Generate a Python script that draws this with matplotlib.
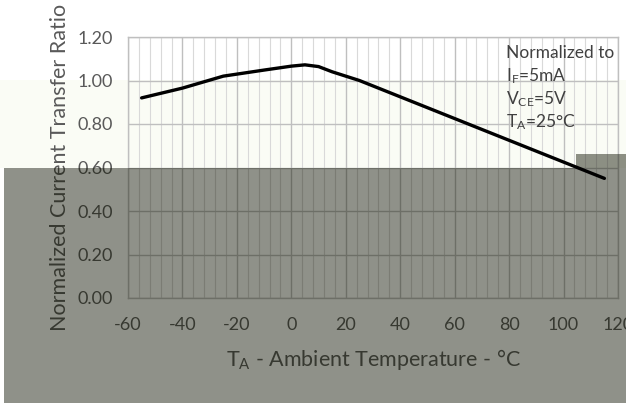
import matplotlib
matplotlib.use("Agg")
import matplotlib.pyplot as plt
from matplotlib.patches import Rectangle
from matplotlib.ticker import MultipleLocator

# 온도별 정규화 CTR 데이터
temp_c = [-55, -40, -25, -10, 0, 5, 10, 15, 25, 50, 75, 100, 115]
ctr_norm = [0.92, 0.965, 1.02, 1.048, 1.066, 1.072, 1.064, 1.04, 1.00, 0.875, 0.75, 0.625, 0.55]

x_ticks = [-60, -40, -20, 0, 20, 40, 60, 80, 100, 120]
y_ticks = [0.00, 0.20, 0.40, 0.60, 0.80, 1.00, 1.20]
note_lines = ["Normalized to", r"I$_{F}$=5mA", r"V$_{CE}$=5V", r"T$_{A}$=25°C"]

plt.rcParams['font.family'] = ['Lato', 'DejaVu Sans']
plt.rcParams['mathtext.default'] = 'regular'
plt.rcParams['axes.unicode_minus'] = False

W, H = 626, 403
fig = plt.figure(figsize=(W / 100, H / 100), dpi=100)
fig.patch.set_facecolor('white')

# 옅은 배경 띠
fig.patches.append(Rectangle((0, 1 - 168 / H), 1, 88 / H, transform=fig.transFigure,
                             facecolor='#fafcf5', edgecolor='none', zorder=-1))

ax = fig.add_axes([128 / W, 1 - 298 / H, 490 / W, 261 / H])
ax.set_facecolor('none')
ax.set_axisbelow(True)

# 곡선
ax.plot(temp_c, ctr_norm, color='black', lw=2.4, solid_capstyle='round', zorder=3)

ax.set_xlim(-60, 120)
ax.set_ylim(0, 1.2)
ax.set_xticks(x_ticks)
ax.set_yticks(y_ticks)
ax.set_yticklabels([f"{v:.2f}" for v in y_ticks])
ax.xaxis.set_minor_locator(MultipleLocator(4))

ax.grid(which='major', color='#bfbfbf', lw=1.0)
ax.grid(which='minor', axis='x', color='#d9d9d9', lw=0.8)
ax.tick_params(which='both', length=0, labelsize=13, labelcolor='#595959')
ax.tick_params(axis='x', pad=14)
ax.tick_params(axis='y', pad=11)
for sp in ax.spines.values():
    sp.set_color('#bfbfbf')
    sp.set_linewidth(1.0)
    sp.set_zorder(0.5)

ax.set_xlabel(r"T$_{A}$ - Ambient Temperature - °C", fontsize=15.5, color='#595959', labelpad=10)
ax.set_ylabel("Normalized Current Transfer Ratio", fontsize=15.5, color='#595959', labelpad=5)

# 조건 설명
for i, s in enumerate(note_lines):
    ax.text(79, 1.128 - i * 0.106, s, fontsize=12.5, color='#404040',
            ha='left', va='center', zorder=4)

# 아래쪽 회색 음영
shade = dict(transform=fig.transFigure, facecolor=(17 / 255, 21 / 255, 4 / 255),
             alpha=0.47, edgecolor='none', clip_on=False, zorder=1)
ax.add_artist(Rectangle((4 / W, 0), 622 / W, 235 / H, **shade))
ax.add_artist(Rectangle((576 / W, 235 / H), 50 / W, 14 / H, **shade))

fig.savefig("out.png", dpi=100)
